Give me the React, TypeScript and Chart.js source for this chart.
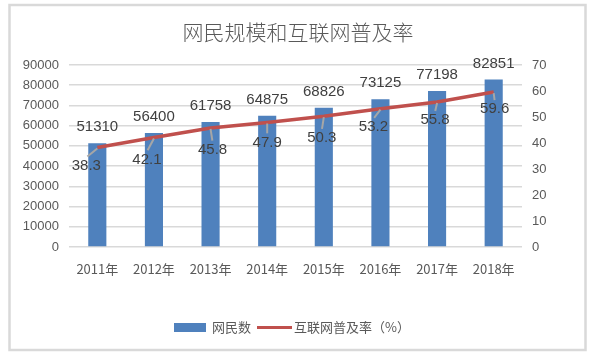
import React, { useEffect, useRef } from "react";
import { Chart, registerables } from "chart.js";

Chart.register(...registerables);

const categories = ["2011年", "2012年", "2013年", "2014年", "2015年", "2016年", "2017年", "2018年"];
const netizens = [51310, 56400, 61758, 64875, 68826, 73125, 77198, 82851];
const rates = [38.3, 42.1, 45.8, 47.9, 50.3, 53.2, 55.8, 59.6];
const titleText = "网民规模和互联网普及率";
const barLabel = "网民数";
const lineLabel = "互联网普及率（%）";

const BAR_COLOR = "#4F81BD";
const LINE_COLOR = "#C0504D";
const AXIS_TEXT = "#595959";
const LABEL_TEXT = "#404040";
const GRID = "#D9D9D9";
const TICK_FONT = { family: "'Liberation Sans', Arial, sans-serif", size: 13 };
const CJK = "'Noto Sans CJK SC', 'Liberation Sans', sans-serif";

// label placement offsets (style only) for the rate labels relative to their points
const rateLabelDx = [-11, -7, 2, 0, -2, -7, -2, 1];
const rateLabelDy = [18, 22, 22, 20, 22, 18, 18, 17];

const decorPlugin = {
  id: "decor",
  beforeDraw(chart: any) {
    const ctx = chart.ctx;
    ctx.save();
    ctx.fillStyle = "#ffffff";
    ctx.fillRect(0, 0, chart.width, chart.height);
    ctx.strokeStyle = GRID;
    ctx.lineWidth = 2.5;
    ctx.strokeRect(9.5, 5, 576, 345);
    ctx.restore();
  },
  afterDraw(chart: any) {
    const ctx = chart.ctx;
    ctx.save();
    // title
    ctx.fillStyle = AXIS_TEXT;
    ctx.font = `300 21px ${CJK}`;
    ctx.textAlign = "center";
    ctx.textBaseline = "middle";
    ctx.fillText(titleText, 298, 32);

    // bar labels
    const barMeta = chart.getDatasetMeta(0);
    ctx.font = "15px 'Liberation Sans', Arial, sans-serif";
    ctx.fillStyle = LABEL_TEXT;
    barMeta.data.forEach((el: any, i: number) => {
      ctx.fillText(String(netizens[i]), el.x, el.y - 16);
    });

    // line labels with leader lines
    const lineMeta = chart.getDatasetMeta(1);
    lineMeta.data.forEach((el: any, i: number) => {
      const lx = el.x + rateLabelDx[i];
      const ly = el.y + rateLabelDy[i];
      const tx = lx;
      const ty = ly - 8;
      const dist = Math.hypot(tx - el.x, ty - el.y);
      if (dist > 9) {
        ctx.strokeStyle = "#A6A6A6";
        ctx.lineWidth = 2;
        ctx.beginPath();
        ctx.moveTo(el.x, el.y + 1);
        ctx.lineTo(el.x + (tx - el.x) * 0.9, el.y + 1 + (ty - el.y - 1) * 0.9);
        ctx.stroke();
      }
      ctx.fillStyle = LABEL_TEXT;
      ctx.fillText(String(rates[i]), lx, ly);
    });

    // legend
    ctx.textAlign = "left";
    ctx.fillStyle = BAR_COLOR;
    ctx.fillRect(174, 323, 32, 9);
    ctx.fillStyle = AXIS_TEXT;
    ctx.font = `13px ${CJK}`;
    ctx.fillText(barLabel, 212, 327.5);
    ctx.strokeStyle = LINE_COLOR;
    ctx.lineWidth = 3;
    ctx.beginPath();
    ctx.moveTo(257, 327.5);
    ctx.lineTo(292, 327.5);
    ctx.stroke();
    ctx.fillText(lineLabel, 294, 327.5);
    ctx.restore();
  },
};

export default function App() {
  const ref = useRef<HTMLCanvasElement | null>(null);
  useEffect(() => {
    if (!ref.current) return;
    const chart = new Chart(ref.current, {
      type: "bar",
      data: {
        labels: categories,
        datasets: [
          {
            type: "bar",
            label: barLabel,
            data: netizens,
            backgroundColor: BAR_COLOR,
            yAxisID: "y",
            barPercentage: 0.32,
            categoryPercentage: 1,
            order: 2,
          },
          {
            type: "line",
            label: lineLabel,
            data: rates,
            borderColor: LINE_COLOR,
            backgroundColor: LINE_COLOR,
            borderWidth: 3.5,
            pointRadius: 0,
            yAxisID: "y1",
            order: 1,
          } as any,
        ],
      },
      options: {
        responsive: false,
        animation: false,
        layout: { padding: { top: 65, left: 0, right: 0, bottom: 0 } },
        plugins: { legend: { display: false }, title: { display: false }, tooltip: { enabled: false } },
        scales: {
          x: {
            grid: { display: false },
            border: { display: false },
            ticks: { color: AXIS_TEXT, font: { family: CJK, size: 13 }, padding: 6, maxRotation: 0 },
            afterFit: (s: any) => {
              s.height = 111;
            },
          },
          y: {
            position: "left",
            min: 0,
            max: 90000,
            ticks: {
              stepSize: 10000,
              color: AXIS_TEXT,
              font: TICK_FONT,
              padding: 10,
              callback: (v: any) => String(v),
            },
            grid: { color: GRID, lineWidth: 1.5, drawTicks: false },
            border: { display: false },
            afterFit: (s: any) => {
              s.width = 69;
            },
          },
          y1: {
            position: "right",
            min: 0,
            max: 70,
            ticks: { stepSize: 10, color: AXIS_TEXT, font: TICK_FONT, padding: 10, callback: (v: any) => String(v) },
            grid: { display: false, drawTicks: false },
            border: { display: false },
            afterFit: (s: any) => {
              s.width = 75;
            },
          },
        },
      } as any,
      plugins: [decorPlugin],
    });
    return () => chart.destroy();
  }, []);
  return (
    <div style={{ position: "fixed", left: 0, top: 0, width: 597, height: 358, background: "#fff" }}>
      <canvas ref={ref} width={597} height={358} style={{ display: "block" }} />
    </div>
  );
}
